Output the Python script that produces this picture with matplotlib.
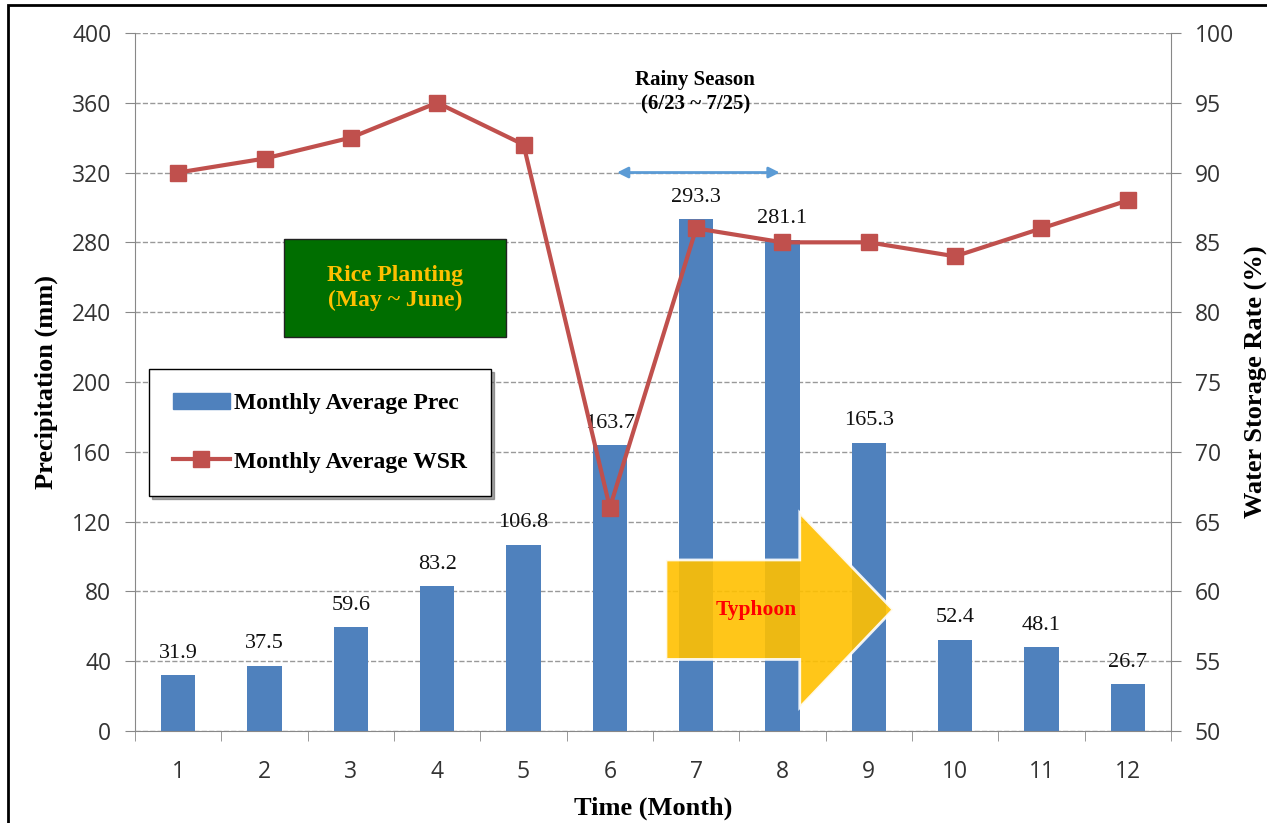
import matplotlib
matplotlib.use('Agg')
import matplotlib.pyplot as plt
from matplotlib.patches import Rectangle, Polygon, FancyArrowPatch
from matplotlib.lines import Line2D

# monthly data
months = [1, 2, 3, 4, 5, 6, 7, 8, 9, 10, 11, 12]
prec = [31.9, 37.5, 59.6, 83.2, 106.8, 163.7, 293.3, 281.1, 165.3, 52.4, 48.1, 26.7]
wsr = [90, 91, 92.5, 95, 92, 66, 86, 85, 85, 84, 86, 88]

bar_color = '#4F81BD'
line_color = '#C0504D'
serif = ['Liberation Serif', 'DejaVu Serif']
sans = ['Open Sans', 'DejaVu Sans']

fig = plt.figure(figsize=(12.67, 8.23), dpi=100)
ax = fig.add_axes([0.1066, 0.1118, 0.8176, 0.8482])
ax2 = ax.twinx()

# bars on the left axis
ax.bar(months, prec, width=0.4, color=bar_color, zorder=2)
for m, p in zip(months, prec):
    ax.text(m, p + 7, f'{p}', ha='center', va='bottom', fontsize=16,
            family=serif, color='#111111', zorder=3)

ax.set_xlim(0.5, 12.5)
ax.set_ylim(0, 400)
ax.set_yticks(range(0, 401, 40))
ax.set_xticks(months)
ax.set_xticks([m + 0.5 for m in range(0, 13)], minor=True)
ax.tick_params(axis='x', which='major', length=0, pad=21)
ax.tick_params(axis='x', which='minor', length=7, color='#888888', direction='out')
ax.tick_params(axis='y', length=7, color='#888888', pad=10)
for lab in ax.get_xticklabels() + ax.get_yticklabels():
    lab.set_family(sans)
    lab.set_fontsize(16.5)
    lab.set_color('#333333')
ax.yaxis.grid(True, linestyle='--', color='#999999', linewidth=1)
ax.set_axisbelow(True)

for side in ['left', 'bottom']:
    ax.spines[side].set_color('#888888')
ax.spines['top'].set_visible(False)
ax.spines['right'].set_visible(False)

ax.set_xlabel('Time (Month)', fontsize=19, fontweight='bold', family=serif, labelpad=9)
ax.set_ylabel('Precipitation (mm)', fontsize=19, fontweight='bold', family=serif, labelpad=10)

# water storage rate on the right axis
ax2.plot(months, wsr, color=line_color, linewidth=3, marker='s', markersize=11, zorder=4)
ax2.set_ylim(50, 100)
ax2.set_yticks(range(50, 101, 5))
ax2.tick_params(axis='y', length=7, color='#888888', pad=10)
for lab in ax2.get_yticklabels():
    lab.set_family(sans)
    lab.set_fontsize(16.5)
    lab.set_color('#333333')
ax2.spines['right'].set_color('#888888')
for side in ['left', 'top', 'bottom']:
    ax2.spines[side].set_visible(False)
ax2.set_ylabel('Water Storage Rate (%)', fontsize=19, fontweight='bold', family=serif,
               rotation=90, labelpad=8)

# rice planting box
ax.add_patch(Rectangle((2.22, 226), 2.58, 56, facecolor='#006E00', edgecolor='#222222',
                       linewidth=1, zorder=5))
ax.text(3.51, 254, 'Rice Planting\n(May ~ June)', ha='center', va='center', fontsize=17,
        fontweight='bold', family=serif, color='#FFC000', linespacing=1.25, zorder=6)

# rainy season span
ax.text(6.99, 366, 'Rainy Season\n(6/23 ~ 7/25)', ha='center', va='center', fontsize=15,
        fontweight='bold', family=serif, color='black', linespacing=1.3, zorder=6)
ax.add_patch(FancyArrowPatch((6.05, 320), (8.0, 320), arrowstyle='<|-|>', mutation_scale=16,
                             color='#5B9BD5', linewidth=2, zorder=6))

# typhoon arrow
typhoon = Polygon([(6.65, 41), (8.2, 41), (8.2, 13.5), (9.28, 69.5), (8.2, 125),
                   (8.2, 98), (6.65, 98)], closed=True, facecolor='#FFC000', alpha=0.9,
                  edgecolor='white', linewidth=2, zorder=5)
ax.add_patch(typhoon)
ax.text(7.7, 69.5, 'Typhoon', ha='center', va='center', fontsize=15.5, fontweight='bold',
        family=serif, color='red', zorder=6)

# legend
handles = [Rectangle((0, 0), 1, 1, color=bar_color),
           Line2D([], [], color=line_color, linewidth=3, marker='s', markersize=11)]
leg = ax2.legend(handles, ['Monthly Average Prec', 'Monthly Average WSR'],
                 loc='upper left', bbox_to_anchor=(0.0025, 0.535), fancybox=False,
                 shadow=True, framealpha=1, edgecolor='black', borderpad=1.0,
                 labelspacing=1.55, handlelength=2.4, handletextpad=0.2,
                 prop={'family': serif, 'weight': 'bold', 'size': 17})
leg.get_frame().set_linewidth(1)
leg.set_zorder(10)

# outer frame
fig.patches.append(Rectangle((8 / 1267, -0.1), 1.2, 1.1 - 5 / 823, transform=fig.transFigure,
                             fill=False, edgecolor='black', linewidth=2))

fig.savefig('out.png', dpi=100)
